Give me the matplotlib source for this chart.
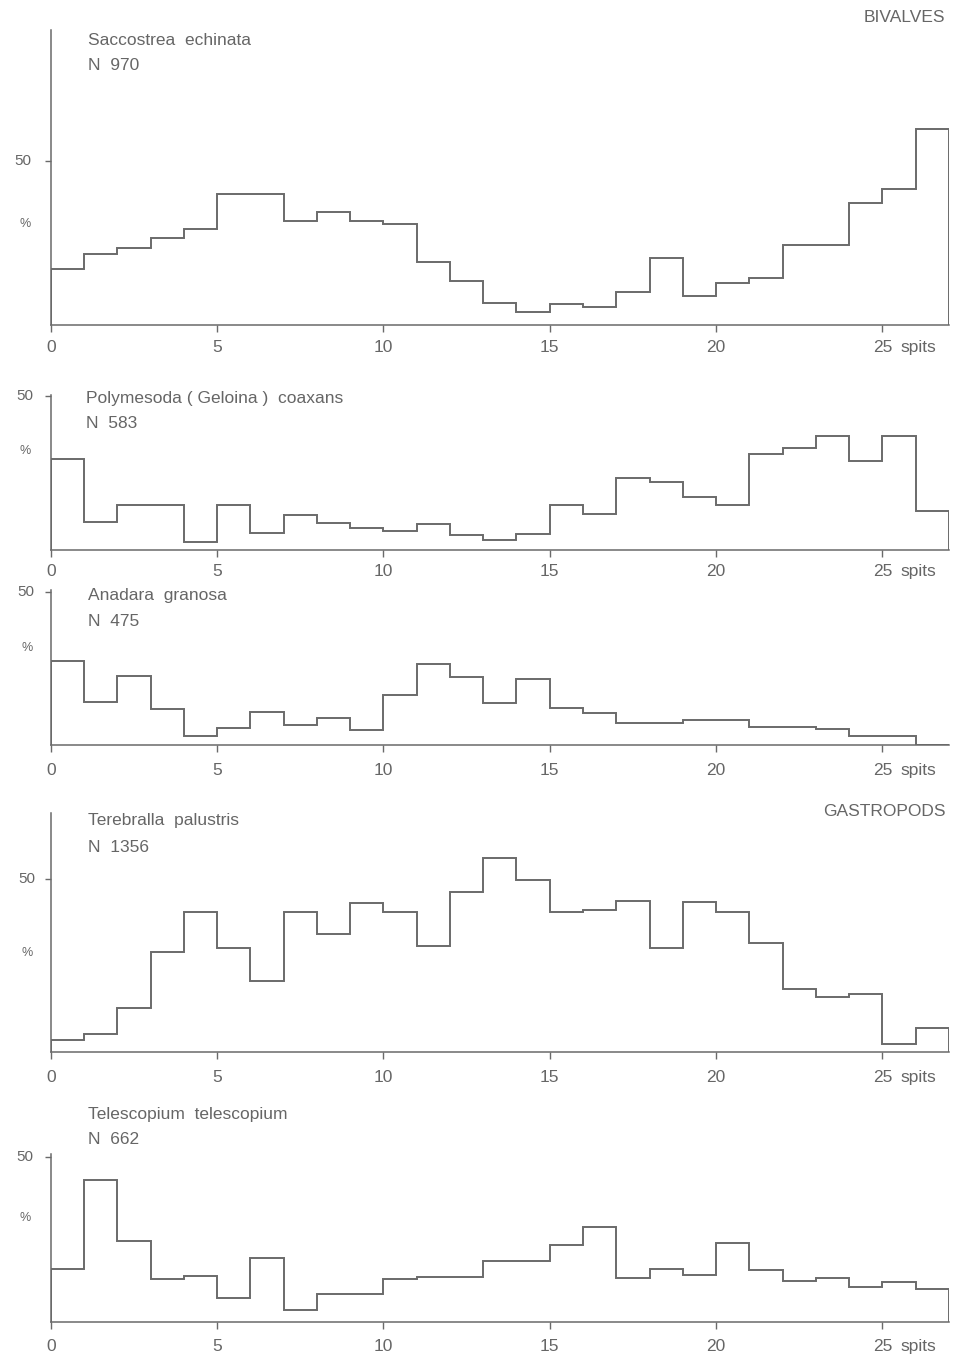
import matplotlib
matplotlib.use("Agg")
import matplotlib.pyplot as plt
import numpy as np

plt.rcParams['font.family'] = ['Liberation Sans', 'DejaVu Sans']

# ---------------- data ----------------
spit_edges = list(range(0, 28))          # spits 0..27
x_ticks = [0, 5, 10, 15, 20, 25]
x_tick_labels = ["0", "5", "10", "15", "20", "25"]
x_unit = "spits"
y_tick = 50
y_unit = "%"

group_titles = ["BIVALVES", "GASTROPODS"]

species = ["Saccostrea  echinata",
           "Polymesoda ( Geloina )  coaxans",
           "Anadara  granosa",
           "Terebralla  palustris",
           "Telescopium  telescopium"]
counts = ["N  970", "N  583", "N  475", "N  1356", "N  662"]

saccostrea = [16.9, 21.5, 23.3, 26.5, 29.2, 39.8, 39.8, 31.6, 34.2, 31.6, 30.6, 19.2, 13.3,
              6.5, 3.7, 6.3, 5.2, 9.9, 20.2, 8.6, 12.6, 14.3, 24.3, 24.3, 37.0, 41.4, 59.7]
polymesoda = [29.4, 9.1, 14.6, 14.6, 2.6, 14.6, 5.4, 11.3, 8.9, 7.2, 6.3, 8.3, 4.9,
              3.2, 5.2, 14.7, 11.7, 23.3, 22.0, 17.1, 14.6, 31.1, 33.1, 37.1, 28.8, 37.0, 12.8]
anadara = [27.5, 14.1, 22.5, 11.6, 3.0, 5.6, 10.6, 6.4, 8.7, 4.9, 16.3, 26.4, 22.0,
           13.6, 21.4, 12.0, 10.3, 7.1, 7.1, 8.1, 8.1, 6.0, 6.0, 5.2, 2.9, 2.9, 0.0]
terebralla = [3.2, 5.1, 12.7, 28.8, 40.3, 29.9, 20.5, 40.3, 34.1, 43.0, 40.3, 30.5, 46.2,
              56.2, 49.8, 40.3, 41.0, 43.5, 30.1, 43.2, 40.3, 31.4, 18.1, 15.8, 16.6, 2.3, 6.7]
telescopium = [15.9, 43.0, 24.5, 12.9, 13.7, 7.0, 19.4, 3.6, 8.5, 8.5, 12.9, 13.4, 13.6,
               18.5, 18.5, 23.3, 28.7, 13.3, 16.0, 14.0, 23.8, 15.5, 12.2, 13.2, 10.6, 12.0, 9.9]

series = [saccostrea, polymesoda, anadara, terebralla, telescopium]

# ---------------- layout (pixels) ----------------
W, H = 957, 1358
fig = plt.figure(figsize=(W / 100, H / 100), dpi=100)
fig.patch.set_facecolor('white')

def fx(x):
    return x / W

def fy(y):
    return 1 - y / H

LINE = '#6a6a6a'
TXT = '#666666'
left_px = 50.7
width_px = 27 * 33.27
# (baseline_y, top_y, ymax)
panels = [(324.5, 30, 89.8),
          (550, 395, 50.3),
          (745, 590, 50.5),
          (1051.5, 813, 69.1),
          (1321.5, 1154, 50.9)]
label_pad = [6.5, 5.0, 8.0, 8.0, 7.5]
name_pos = [(88, 40.5, 66), (86.5, 398.5, 423), (88, 595.5, 621.5),
            (88, 821, 847), (88, 1115, 1140)]
pct_pos = [(25, 224), (25, 451), (27, 648), (27, 953), (25, 1218)]
fifty_x = [23, 25, 26, 27, 25]

for i, (vals, (base, top, ymax)) in enumerate(zip(series, panels)):
    ax = fig.add_axes([fx(left_px), fy(base), fx(width_px), (base - top) / H])
    ax.set_xlim(0, 27)
    ax.set_ylim(0, ymax)
    ax.stairs(vals, spit_edges, baseline=0, fill=False, color=LINE, lw=1.4)
    for s in ['top', 'right']:
        ax.spines[s].set_visible(False)
    for s in ['left', 'bottom']:
        ax.spines[s].set_color(LINE)
        ax.spines[s].set_linewidth(1.1)
    ax.set_xticks(x_ticks)
    ax.set_xticklabels(x_tick_labels)
    ax.set_yticks([y_tick])
    ax.set_yticklabels([])
    ax.tick_params(axis='x', direction='out', length=5, width=1.0, color=LINE,
                   labelsize=12.5, labelcolor=TXT, pad=label_pad[i])
    ax.tick_params(axis='y', direction='out', length=4, width=1.0, color=LINE)
    ax.annotate(x_unit, xy=(25.55, 0), xycoords=('data', 'axes fraction'),
                xytext=(0, -(5 + label_pad[i])), textcoords='offset points',
                ha='left', va='top', fontsize=12.5, color=TXT)
    ax.set_facecolor('none')
    # y labels
    y50 = base - (base - top) * (y_tick / ymax)
    fig.text(fx(fifty_x[i]), fy(y50), str(y_tick), ha='center', va='center',
             fontsize=11, color=TXT)
    fig.text(fx(pct_pos[i][0]), fy(pct_pos[i][1]), y_unit, ha='center', va='center',
             fontsize=9, color=TXT)
    # species labels
    nx, ny1, ny2 = name_pos[i]
    fig.text(fx(nx), fy(ny1), species[i], ha='left', va='center',
             fontsize=12.5, color=TXT)
    fig.text(fx(nx), fy(ny2), counts[i], ha='left', va='center',
             fontsize=12.5, color=TXT)

fig.text(fx(945), fy(17), group_titles[0], ha='right', va='center',
         fontsize=12.5, color=TXT)
fig.text(fx(946), fy(811), group_titles[1], ha='right', va='center',
         fontsize=12.5, color=TXT)

fig.savefig('out.png', dpi=100, facecolor='white')
